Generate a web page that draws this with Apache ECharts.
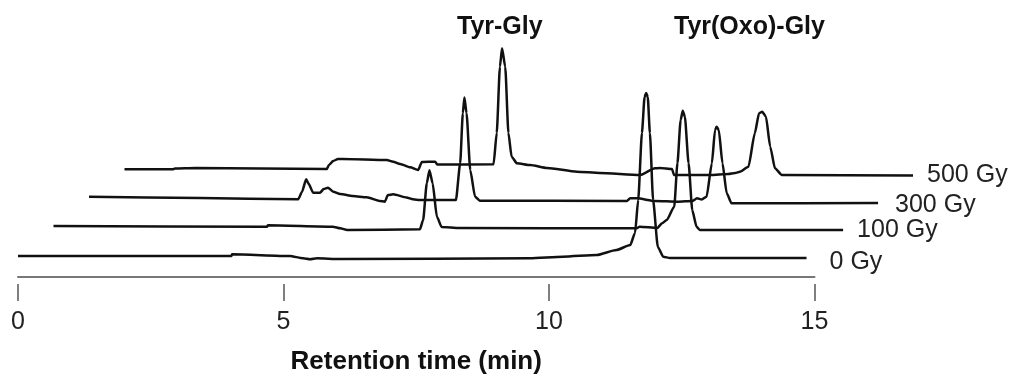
<!DOCTYPE html>
<html>
<head>
<meta charset="utf-8">
<script src="https://cdn.jsdelivr.net/npm/echarts/dist/echarts.min.js"></script>
<style>
  html, body { margin: 0; padding: 0; background: #fff; }
  #chart { width: 1013px; height: 376px; }
</style>
</head>
<body>
<div id="chart"></div>
<script>
// chromatograms, [retention time (min), detector signal (a.u.)]
var gy0 = [
  [0.00, 2], [4.02, 2], [4.03, 3.7], [5.12, 2], [5.37, -0.3], [5.50, -1.3], [5.63, -0.3],
  [6.06, -1], [9.64, -0.3], [10.26, 1.3], [10.90, 3], [11.27, 8], [11.53, 13], [11.62, 25],
  [11.68, 58], [11.75, 125], [11.80, 161], [11.83, 165], [11.86, 161], [11.90, 125],
  [11.96, 58], [12.05, 11], [12.15, 1.3], [12.28, 0], [14.85, 0]
]
var gy100 = [
  [0.00, 4.3], [4.02, 3.6], [4.04, 5], [5.26, 3.6], [5.40, 2], [5.53, 0.3], [6.90, 1],
  [6.96, 10], [7.03, 47], [7.08, 60], [7.14, 47], [7.22, 13.6], [7.31, 3.3], [7.65, 2.3],
  [10.98, 2], [11.04, 3.6], [11.37, 2.3], [11.46, 7], [11.55, 10.3], [11.69, 23.6],
  [11.75, 67], [11.81, 110], [11.85, 119.6], [11.89, 113.6], [11.96, 67], [12.03, 20],
  [12.11, 3.6], [12.17, 0.3], [14.87, 0.3]
]
var gy300 = [
  [0.00, 5.9], [2.09, 4.6], [3.94, 3.3], [4.01, 10.6], [4.09, 23.3], [4.14, 18.6],
  [4.22, 9.9], [4.35, 9.9], [4.42, 13.6], [4.50, 14.9], [4.60, 10.9], [4.73, 8.6],
  [4.97, 6.6], [5.23, 5.3], [5.48, 1.6], [5.57, 0.9], [5.63, 7.6], [5.73, 8.3], [5.98, 5.1],
  [6.10, 3.3], [6.23, 2.6], [6.91, 2.6], [6.99, 39.3], [7.04, 89.3], [7.07, 105],
  [7.11, 89.3], [7.18, 32.6], [7.27, 5.9], [7.36, 1.9], [10.13, 1.6], [10.19, 4.3],
  [10.32, 4.3], [10.66, 1.6], [11.09, 0.9], [11.36, 1.6], [11.45, 4.3], [11.54, 3.1],
  [11.63, 5.9], [11.73, 39.3], [11.79, 72.6], [11.82, 75.9], [11.86, 72.6], [11.93, 39.3],
  [12.01, 9.3], [12.10, -0.7], [14.86, -0.4]
]
var gy500 = [
  [0.00, 5.6], [0.91, 5.6], [0.95, 6.4], [1.33, 6.9], [3.81, 5.9], [3.85, 9.9], [3.93, 13.9],
  [4.02, 15.9], [4.11, 15.9], [4.94, 14.9], [5.06, 13.2], [5.19, 10.9], [5.38, 7.6],
  [5.53, 4.9], [5.60, 12.9], [5.85, 13.2], [5.89, 10.4], [6.95, 10.6], [7.01, 41.9],
  [7.07, 108.2], [7.11, 126.6], [7.17, 108.2], [7.23, 41.9], [7.29, 18.2], [7.39, 11.6],
  [7.64, 9.9], [7.96, 6.9], [8.52, 3.2], [8.95, 1.9], [9.71, -0.1], [9.99, 6.6], [10.08, 6.9],
  [10.31, 5.9], [10.35, -0.1], [11.03, -0.1], [11.37, 0.9], [11.50, 1.9], [11.59, 3.2],
  [11.75, 8.2], [11.87, 41.6], [11.95, 61.6], [12.01, 63.2], [12.08, 58.2], [12.16, 28.2],
  [12.25, 6.6], [12.38, -0.1], [14.85, -0.6]
]
var traces = [gy0, gy100, gy300, gy500]
var doseLabels = ['0 Gy', '100 Gy', '300 Gy', '500 Gy']
var peakNames = ['Tyr-Gly', 'Tyr(Oxo)-Gly']
var xTicks = [0, 5, 10, 15]

// layout of the waterfall: each trace is shifted right and up
var font = 'Arial, "Liberation Sans", sans-serif'
var plotLeft = 18
var plotWidth = 796.5
var shiftX = 35.5
var shiftY = 27.7
var labelGap = [23, 14, 17, 14]
var labelDy = [4, 0, 2, 0]

var grids = []
var xAxes = []
var yAxes = []
var series = []

for (var k = 0; k < traces.length; k++) {
  grids.push({
    left: plotLeft + shiftX * k,
    width: plotWidth,
    top: 88 - shiftY * k,
    height: 190
  })
  xAxes.push({ gridIndex: k, type: 'value', min: xTicks[0], max: xTicks[xTicks.length - 1], show: false })
  yAxes.push({ gridIndex: k, type: 'value', min: -20, max: 170, show: false })
}

// grid holding the visible time axis
var axisGrid = grids.length
grids.push({ left: plotLeft, width: plotWidth, top: 102, height: 180 })
yAxes.push({ gridIndex: axisGrid, type: 'value', min: 0, max: 1, show: false })
xAxes.push({
  gridIndex: axisGrid,
  type: 'value',
  position: 'bottom',
  z: 10,
  min: xTicks[0],
  max: xTicks[xTicks.length - 1],
  axisLine: { show: true, onZero: false, lineStyle: { color: '#777', width: 2 } },
  axisTick: { show: false },
  axisLabel: { show: false },
  splitLine: { show: false }
})
xAxes.push({
  gridIndex: axisGrid,
  type: 'value',
  position: 'bottom',
  offset: 7,
  min: xTicks[0],
  max: xTicks[xTicks.length - 1],
  interval: 5,
  axisLine: { show: false, onZero: false },
  axisTick: { show: true, length: 17, lineStyle: { color: '#555', width: 1.5 } },
  axisLabel: { margin: 26, fontSize: 25, color: '#222', fontFamily: font },
  splitLine: { show: false },
  name: 'Retention time (min)',
  nameLocation: 'middle',
  nameGap: 65,
  nameTextStyle: { fontSize: 26, fontWeight: 'bold', color: '#111', fontFamily: font }
})

// back traces first so the front ones hide what lies behind their peaks
for (var j = traces.length - 1; j >= 0; j--) {
  series.push({
    name: doseLabels[j],
    type: 'line',
    xAxisIndex: j,
    yAxisIndex: j,
    data: traces[j],
    showSymbol: false,
    smooth: 0.2,
    smoothMonotone: 'x',
    clip: false,
    lineStyle: { color: '#111', width: 2.5 },
    areaStyle: { color: '#fff', opacity: 1, origin: 'start' },
    endLabel: {
      show: true,
      formatter: '{a}',
      distance: labelGap[j],
      offset: [0, labelDy[j]],
      fontSize: 25,
      color: '#222',
      fontFamily: font
    }
  })
}

var chart = echarts.init(document.getElementById('chart'))
chart.setOption({
  backgroundColor: '#fff',
  animation: false,
  grid: grids,
  xAxis: xAxes,
  yAxis: yAxes,
  series: series,
  graphic: [
    {
      type: 'text',
      left: 457,
      top: 15,
      style: { text: peakNames[0], font: 'bold 25px ' + font, fill: '#111' }
    },
    {
      type: 'text',
      left: 674,
      top: 15,
      style: { text: peakNames[1], font: 'bold 25px ' + font, fill: '#111' }
    }
  ]
})
</script>
</body>
</html>
